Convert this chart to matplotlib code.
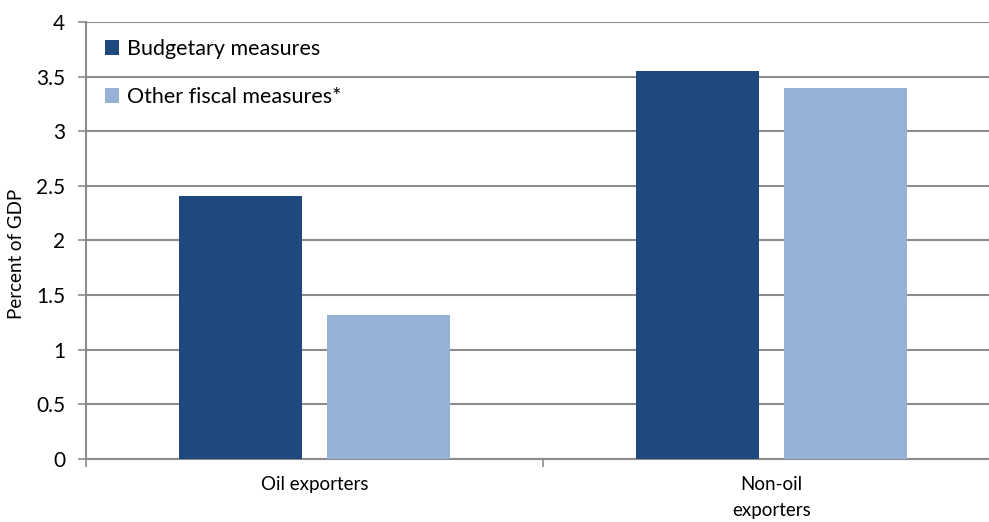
import numpy as np
import matplotlib.pyplot as plt

# data
categories = ['Oil exporters', 'Non-oil\nexporters']
budgetary = [2.41, 3.55]
other_fiscal = [1.32, 3.40]
series_names = ['Budgetary measures', 'Other fiscal measures*']
yticks = [0, 0.5, 1, 1.5, 2, 2.5, 3, 3.5, 4]

plt.rcParams['font.family'] = ['Lato', 'DejaVu Sans']

fig = plt.figure(figsize=(9.89, 5.22), dpi=100)
ax = fig.add_axes([0.087, 0.1207, 0.924, 0.8372])

x = np.arange(len(categories))
w = 0.27
off = 0.162
ax.bar(x - off, budgetary, w, color='#1F497D', label=series_names[0], zorder=3)
ax.bar(x + off, other_fiscal, w, color='#95B3D7', label=series_names[1], zorder=3)

ax.set_xlim(-0.5, len(categories) - 0.5)
ax.set_ylim(0, 4)
ax.set_yticks(yticks)
ax.set_yticklabels([f'{v:g}' for v in yticks], fontsize=15)
ax.yaxis.grid(True, color='#8c8c8c', linewidth=1.5, zorder=0)

ax.set_xticks(x)
ax.set_xticklabels(categories, fontsize=13.5, linespacing=1.65)
ax.set_xticks(np.arange(len(categories) + 1) - 0.5, minor=True)
ax.tick_params(axis='x', which='major', length=0, pad=12)
ax.tick_params(axis='x', which='minor', length=6, color='#8c8c8c', width=1.2)
ax.tick_params(axis='y', length=6, color='#8c8c8c', width=1.2, pad=9)

for s in ['top', 'right']:
    ax.spines[s].set_visible(False)
for s in ['left', 'bottom']:
    ax.spines[s].set_color('#8c8c8c')
    ax.spines[s].set_linewidth(1.5)

ax.set_ylabel('Percent of GDP', fontsize=13.5)
ax.yaxis.set_label_coords(-0.067, 0.47)

ax.legend(loc='upper left', bbox_to_anchor=(0.0, 1.005), frameon=False,
          fontsize=15.5, handlelength=0.65, handleheight=0.65,
          handletextpad=0.35, labelspacing=1.3)

fig.savefig('out.png', dpi=100)
